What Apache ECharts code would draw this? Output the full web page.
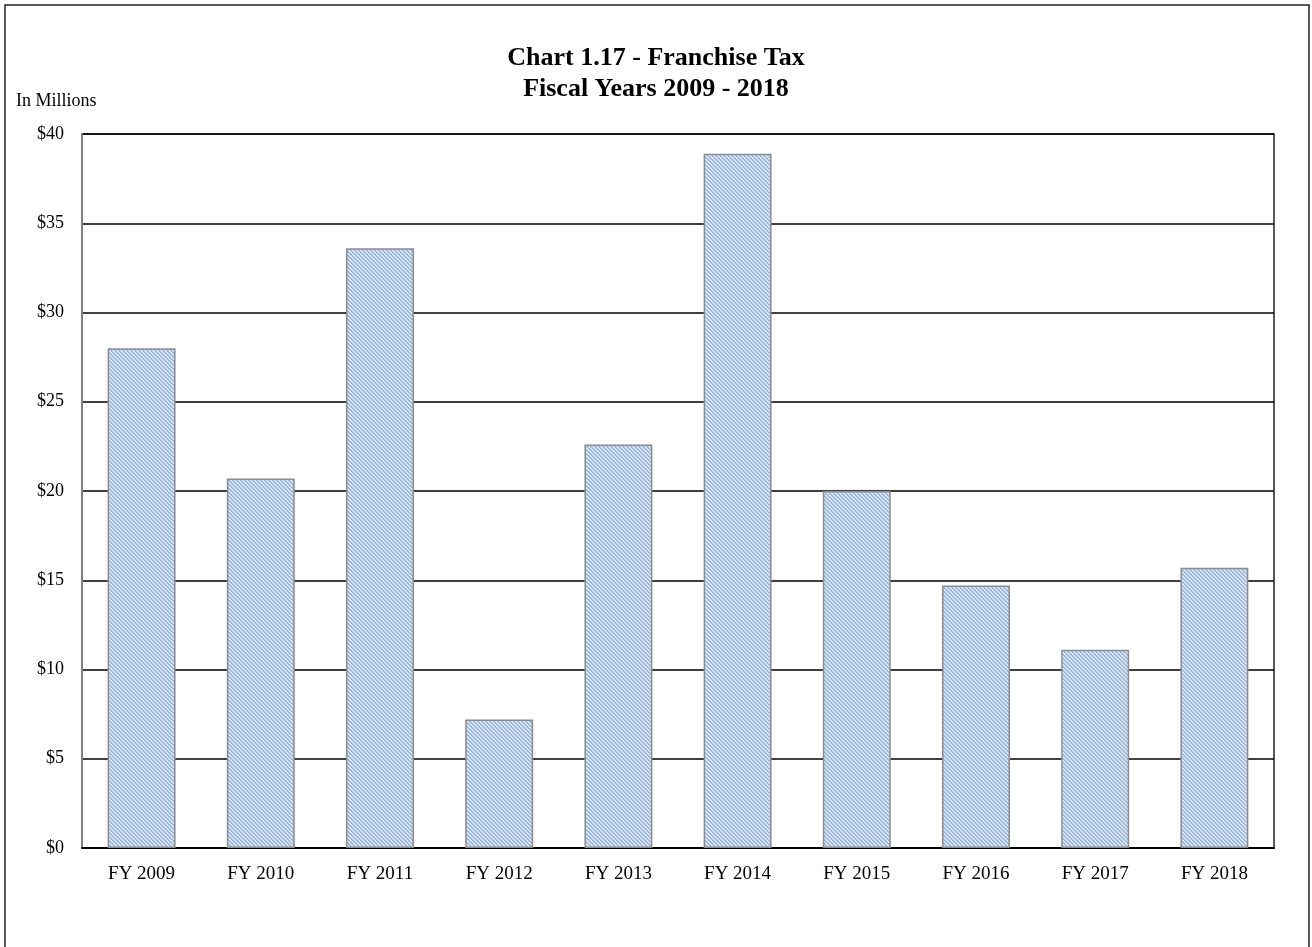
<!DOCTYPE html>
<html>
<head>
<meta charset="utf-8">
<script src="https://cdn.jsdelivr.net/npm/echarts@6/dist/echarts.min.js"></script>
<style>
html,body{margin:0;padding:0;background:#fff;}
#chart{width:1312px;height:947px;}
</style>
</head>
<body>
<div id="chart"></div>
<script>
const categories = ['FY 2009','FY 2010','FY 2011','FY 2012','FY 2013','FY 2014','FY 2015','FY 2016','FY 2017','FY 2018'];
const values = [28.0, 20.7, 33.6, 7.2, 22.6, 38.9, 20.0, 14.7, 11.1, 15.7];
const yTicks = { min: 0, max: 40, interval: 5 };

// hatched fill pattern
const pat = document.createElement('canvas');
pat.width = 4; pat.height = 4;
const pctx = pat.getContext('2d');
pctx.fillStyle = '#dae5f4';
pctx.fillRect(0, 0, 4, 4);
pctx.fillStyle = '#9bb8de';
for (let y = 0; y < 4; y++) {
  for (let x = 0; x < 4; x++) {
    const d = ((x - y) % 4 + 4) % 4;
    if (d === 0 || d === 1) pctx.fillRect(x, y, 1, 1);
  }
}

const chart = echarts.init(document.getElementById('chart'), null, { renderer: 'canvas' });
const font = 'Liberation Serif';
chart.setOption({
  backgroundColor: '#fff',
  animation: false,
  title: {
    text: 'Chart 1.17 - Franchise Tax\nFiscal Years 2009 - 2018',
    left: 'center',
    top: 38,
    textStyle: { fontFamily: font, fontWeight: 'bold', fontSize: 26, lineHeight: 31, color: '#000' }
  },
  graphic: [
    { type: 'rect', shape: { x: 5, y: 5, width: 1304, height: 980 }, style: { fill: 'none', stroke: '#222', lineWidth: 1.5 }, silent: true },
    { type: 'text', left: 16, top: 92, style: { text: 'In Millions', font: '18px "Liberation Serif"', fill: '#000' } }
  ],
  grid: { left: 82, right: 38, top: 134, bottom: 99, show: true, borderColor: '#222', borderWidth: 1.5, backgroundColor: 'transparent' },
  xAxis: {
    type: 'category',
    data: categories,
    axisTick: { show: false },
    axisLine: { lineStyle: { color: '#000', width: 2 } },
    axisLabel: { fontFamily: font, fontSize: 19, color: '#000', margin: 17 }
  },
  yAxis: {
    type: 'value',
    min: yTicks.min, max: yTicks.max, interval: yTicks.interval,
    axisLine: { show: true, lineStyle: { color: '#808080', width: 2 } },
    axisTick: { show: false },
    splitLine: { lineStyle: { color: '#000', width: 1.5 } },
    axisLabel: { fontFamily: font, fontSize: 18, color: '#000', margin: 18, formatter: v => '$' + v }
  },
  series: [{
    type: 'bar',
    data: values,
    barWidth: '57%',
    itemStyle: { color: { image: pat, repeat: 'repeat' }, borderColor: '#8c8c8c', borderWidth: 1.5 }
  }]
});
</script>
</body>
</html>
